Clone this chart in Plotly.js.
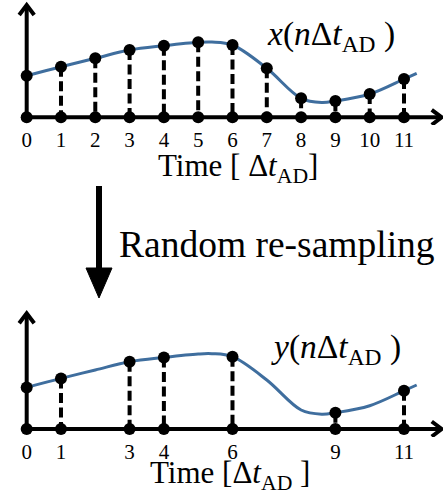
<!DOCTYPE html>
<html><head><meta charset="utf-8">
<script src="https://cdn.plot.ly/plotly-3.0.1.min.js"></script>
<style>html,body{margin:0;padding:0;background:#fff;}</style>
</head><body>
<div id="chart" style="width:443px;height:495px;"></div>
<script>
// sample times (in units of Δt_AD)
var times = [0, 1, 2, 3, 4, 5, 6, 7, 8, 9, 10, 11];
// sampled signal x(nΔt_AD)
var signal = [41.6, 50.6, 59, 67.3, 71.6, 75, 72.3, 49, 19, 16.3, 23.3, 38.3];
// underlying continuous curve (knots)
var curveT = [0, 1, 2, 3, 4, 5, 5.4, 6, 7, 8, 8.6, 9, 10, 11, 11.37];
var curveV = [41.6, 50.6, 59, 67.3, 71.6, 75, 75.3, 72.3, 49, 19, 14.8, 16.3, 23.3, 38.3, 44];
// randomly re-sampled times y(nΔt_AD)
var resampled = [0, 1, 3, 4, 6, 9, 11];
// tick labels
var topTicks = ['0','1','2','3','4','5','6','7','8','9','10','11'];
var botTicks = ['0','1','3','4','6','9','11'];

var W = 443, H = 495;
var BLUE = '#3f6e9e';
var FONT = '"Liberation Serif", "Times New Roman", serif';

function valAt(t){ return signal[times.indexOf(t)]; }
var resVals = resampled.map(valAt);

function stems(ts, vs){
  var x=[], y=[];
  ts.forEach(function(t,i){ if(t===0) return; x.push(t,t,null); y.push(vs[i],0,null); });
  return {x:x, y:y};
}
function zeros(a){ return a.map(function(){return 0;}); }

var sTop = stems(times, signal);
var sBot = stems(resampled, resVals);

function panel(xa, ya, ts, vs, st){
  return [
    {x:curveT, y:curveV, xaxis:xa, yaxis:ya, mode:'lines', line:{color:BLUE, width:3, shape:'spline', smoothing:1}, hoverinfo:'skip'},
    {x:st.x, y:st.y, xaxis:xa, yaxis:ya, mode:'lines', line:{color:'#000', width:4, dash:'10px,4.5px'}, hoverinfo:'skip'},
    {x:ts, y:vs, xaxis:xa, yaxis:ya, mode:'markers', marker:{color:'#000', size:12}, hoverinfo:'skip'},
    {x:ts, y:zeros(ts), xaxis:xa, yaxis:ya, mode:'markers', marker:{color:'#000', size:12}, hoverinfo:'skip'}
  ];
}

var data = panel('x','y',times,signal,sTop).concat(panel('x2','y2',resampled,resVals,sBot));

var UX = 34.3; // px per time unit
function axisShapes(xr, yr, ytip, xtip){
  var hw = 7.5, hl = 10;
  return [
    {type:'line', xref:xr, yref:yr, x0:0, x1:0, y0:-1.9, y1:ytip, line:{color:'#000', width:4}, layer:'below'},
    {type:'line', xref:xr, yref:yr, x0:-0.16, x1:xtip, y0:0, y1:0, line:{color:'#000', width:4}, layer:'below'},
    {type:'path', xref:xr, yref:yr, path:'M'+(-hw/UX)+','+(ytip-hl)+' L0,'+ytip+' L'+(hw/UX)+','+(ytip-hl), line:{color:'#000', width:4}, layer:'below'},
    {type:'path', xref:xr, yref:yr, path:'M'+(xtip-hl/UX)+','+hw+' L'+xtip+',0 L'+(xtip-hl/UX)+','+(-hw), line:{color:'#000', width:4}, layer:'below'}
  ];
}
function px(x){ return x/W; }
function py(y){ return 1 - y/H; }

var shapes = axisShapes('x','y',112.3,12.1).concat(axisShapes('x2','y2',115.7,12.1));
// big down arrow
shapes.push({type:'line', xref:'paper', yref:'paper', x0:px(99), x1:px(99), y0:py(186), y1:py(272), line:{color:'#000', width:6}});
shapes.push({type:'path', xref:'paper', yref:'paper', path:'M'+px(86)+','+py(268)+' L'+px(112)+','+py(268)+' L'+px(99)+','+py(298)+' Z', fillcolor:'#000', line:{color:'#000', width:1}});

var annotations = [
  {xref:'paper', yref:'paper', x:px(238), y:py(168), xanchor:'center', yanchor:'middle', showarrow:false,
   text:'Time [ Δ<i>t</i><sub>AD</sub>]', font:{family:FONT, size:31, color:'#000'}},
  {xref:'paper', yref:'paper', x:px(230), y:py(475), xanchor:'center', yanchor:'middle', showarrow:false,
   text:'Time [Δ<i>t</i><sub>AD</sub> ]', font:{family:FONT, size:31, color:'#000'}},
  {xref:'paper', yref:'paper', x:px(265), y:py(36), xanchor:'left', yanchor:'middle', showarrow:false,
   text:'<i>x</i>(<i>n</i>Δ<i>t</i><sub>AD</sub> )', font:{family:FONT, size:33.5, color:'#000'}},
  {xref:'paper', yref:'paper', x:px(269), y:py(349), xanchor:'left', yanchor:'middle', showarrow:false,
   text:'<i>y</i>(<i>n</i>Δ<i>t</i><sub>AD</sub> )', font:{family:FONT, size:33.5, color:'#000'}},
  {xref:'paper', yref:'paper', x:px(117), y:py(244), xanchor:'left', yanchor:'middle', showarrow:false,
   text:'Random re-sampling', font:{family:FONT, size:37.5, color:'#000'}}
];

var xr = [-0.778, 12.137];
var tickfont = {family:FONT, size:21, color:'#000'};
var layout = {
  width:W, height:H, margin:{l:0,r:0,t:0,b:0,pad:0},
  paper_bgcolor:'#fff', plot_bgcolor:'rgba(0,0,0,0)', showlegend:false,
  xaxis:{domain:[0,1], range:xr, anchor:'y', showgrid:false, zeroline:false, showline:false, ticks:'',
         tickmode:'array', tickvals:times, ticktext:topTicks, tickfont:tickfont, fixedrange:true},
  yaxis:{domain:[1-125/H, 1], range:[117.3-125, 117.3], visible:false, fixedrange:true},
  xaxis2:{domain:[0,1], range:xr, anchor:'y2', showgrid:false, zeroline:false, showline:false, ticks:'',
         tickmode:'array', tickvals:resampled, ticktext:botTicks, tickfont:tickfont, fixedrange:true},
  yaxis2:{domain:[1-437/H, 1-300/H], range:[429-437, 129], visible:false, fixedrange:true},
  shapes:shapes, annotations:annotations
};
Plotly.newPlot('chart', data, layout, {staticPlot:true, displayModeBar:false});
</script>
</body></html>
